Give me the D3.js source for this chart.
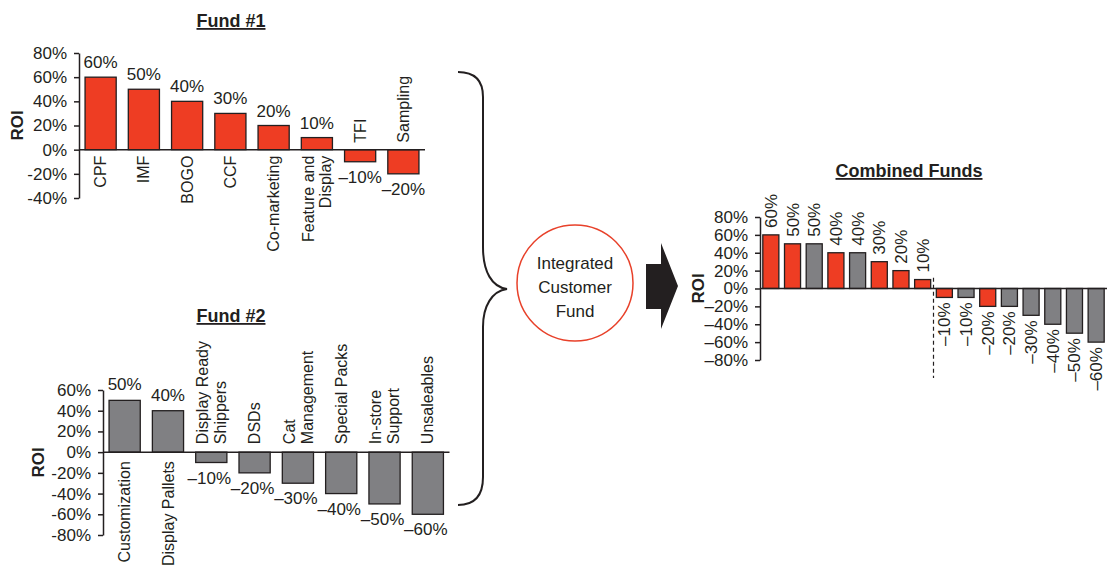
<!DOCTYPE html>
<html><head><meta charset="utf-8">
<script src="https://cdn.jsdelivr.net/npm/d3@7"></script>
<style>
body{margin:0;background:#fff;}
svg text{font-family:"Liberation Sans",Arial,sans-serif;fill:#231f20;}
</style></head><body>
<svg id="chart" width="1111" height="582"></svg>
<script>
const fund1Categories = ["CPF","IMF","BOGO","CCF","Co-marketing","Feature and\nDisplay","TFI","Sampling"];
const fund1Values = [60,50,40,30,20,10,-10,-20];
const fund1Ticks = [80,60,40,20,0,-20,-40];
const fund2Categories = ["Customization","Display Pallets","Display Ready\nShippers","DSDs","Cat\nManagement","Special Packs","In-store\nSupport","Unsaleables"];
const fund2Values = [50,40,-10,-20,-30,-40,-50,-60];
const fund2Ticks = [60,40,20,0,-20,-40,-60,-80];
const combinedValues = [60,50,50,40,40,30,20,10,-10,-10,-20,-20,-30,-40,-50,-60];
const combinedSource = ["Fund #1","Fund #1","Fund #2","Fund #1","Fund #2","Fund #1","Fund #1","Fund #1","Fund #1","Fund #2","Fund #1","Fund #2","Fund #2","Fund #2","Fund #2","Fund #2"];
const combinedTicks = [80,60,40,20,0,-20,-40,-60,-80];
const titles = ["Fund #1","Fund #2","Combined Funds"];
const centerLabel = ["Integrated","Customer","Fund"];

const RED = "#ee3d23", GRAY = "#808083", INK = "#231f20";
const svg = d3.select("#chart");

const hyphenFmt = d => d + "%";
const dashFmt = d => (d < 0 ? "\u2013" + Math.abs(d) : d) + "%";

function panel(o){
  const g = svg.append("g");
  const x = d3.scaleBand().domain(d3.range(o.values.length)).range(o.xRange)
    .paddingInner(o.pad).paddingOuter(o.pad/2);
  const y = d3.scaleLinear().domain(o.yDomain).range(o.yRange);
  // title
  g.append("text").attr("x", o.titlePos[0]).attr("y", o.titlePos[1])
    .attr("text-anchor","middle").attr("font-size",18).attr("font-weight","bold")
    .attr("text-decoration","underline").text(o.title);
  // ROI label
  g.append("text").attr("transform",`translate(${o.roiX},${(o.yRange[0]+o.yRange[1])/2}) rotate(-90)`)
    .attr("text-anchor","middle").attr("font-size",17).attr("font-weight","bold").text("ROI");
  // axis
  const ag = g.append("g").attr("transform",`translate(${o.xRange[0]},0)`)
    .call(d3.axisLeft(y).tickValues(o.ticks).tickSizeInner(5).tickSizeOuter(0).tickPadding(7).tickFormat(o.fmt));
  ag.attr("font-family",null).attr("font-size",null);
  ag.select(".domain").attr("stroke",INK).attr("stroke-width",1.5);
  ag.selectAll(".tick line").attr("stroke",INK).attr("stroke-width",1.5);
  ag.selectAll(".tick text").attr("font-size",17).attr("fill",INK);
  // bars
  g.selectAll("rect.bar").data(o.values).join("rect").attr("class","bar")
    .attr("x",(d,i)=>x(i)).attr("width",x.bandwidth())
    .attr("y",d=>y(Math.max(0,d))).attr("height",d=>Math.abs(y(d)-y(0)))
    .attr("fill",(d,i)=>o.colors[i]).attr("stroke",INK).attr("stroke-width",1.3);
  // zero line
  g.append("line").attr("x1",o.xRange[0]).attr("x2",o.xRange[1])
    .attr("y1",y(0)).attr("y2",y(0)).attr("stroke",INK).attr("stroke-width",1.5);
  return {g,x,y};
}

// ---- Fund #1
(function(){
  const p = panel({values:fund1Values, xRange:[79,425], pad:0.28, yDomain:[-40,80], yRange:[198,53],
    ticks:fund1Ticks, fmt:hyphenFmt, title:titles[0], titlePos:[231,27], roiX:23,
    colors:fund1Values.map(()=>RED)});
  const {g,x,y} = p;
  const cx = i => x(i)+x.bandwidth()/2;
  g.selectAll("text.val").data(fund1Values).join("text").attr("class","val")
    .attr("x",(d,i)=>cx(i)).attr("y",d=> d>=0 ? y(d)-9 : y(d)+21)
    .attr("text-anchor","middle").attr("font-size",17).text(dashFmt);
  fund1Categories.forEach((c,i)=>{
    const v = fund1Values[i], lines = c.split("\n"), lh = 17;
    const t = g.append("text").attr("font-size",16)
      .attr("transform",`translate(${cx(i)},${v>=0? y(0)+6 : y(0)-7}) rotate(-90)`)
      .attr("text-anchor", v>=0 ? "end" : "start");
    lines.forEach((l,k)=>t.append("tspan").attr("x",0).attr("y",(k-(lines.length-1)/2)*lh+5.6).text(l));
  });
})();

// ---- Fund #2
(function(){
  const p = panel({values:fund2Values, xRange:[103,449.5], pad:0.28, yDomain:[-80,60], yRange:[535,390],
    ticks:fund2Ticks, fmt:hyphenFmt, title:titles[1], titlePos:[231,322], roiX:44,
    colors:fund2Values.map(()=>GRAY)});
  const {g,x,y} = p;
  const cx = i => x(i)+x.bandwidth()/2;
  g.selectAll("text.val").data(fund2Values).join("text").attr("class","val")
    .attr("x",(d,i)=>cx(i)-(d<0?2:0)).attr("y",d=> d>=0 ? y(d)-10 : y(d)+21)
    .attr("text-anchor","middle").attr("font-size",17).text(dashFmt);
  fund2Categories.forEach((c,i)=>{
    const v = fund2Values[i], lines = c.split("\n"), lh = 18;
    const t = g.append("text").attr("font-size",16)
      .attr("transform",`translate(${cx(i)},${v>=0? y(0)+9 : y(0)-8}) rotate(-90)`)
      .attr("text-anchor", v>=0 ? "end" : "start");
    lines.forEach((l,k)=>t.append("tspan").attr("x",0).attr("y",(k-(lines.length-1)/2)*lh+5.6).text(l));
  });
})();

// ---- Combined
(function(){
  const p = panel({values:combinedValues, xRange:[760,1107], pad:0.26, yDomain:[-80,80], yRange:[360,217],
    ticks:combinedTicks, fmt:dashFmt, title:titles[2], titlePos:[909,177], roiX:704,
    colors:combinedSource.map(s=> s==="Fund #1" ? RED : GRAY)});
  const {g,x,y} = p;
  const cx = i => x(i)+x.bandwidth()/2;
  g.selectAll("text.val").data(combinedValues).join("text").attr("class","val")
    .attr("transform",(d,i)=>`translate(${cx(i)+6},${d>=0 ? y(d)-7 : y(d)+5}) rotate(-90)`)
    .attr("text-anchor",d=> d>=0 ? "start" : "end").attr("font-size",17).text(dashFmt);
  const firstNeg = combinedValues.findIndex(v=>v<0);
  const xd = x(firstNeg) - x.step()*x.paddingInner()/2;
  g.append("line").attr("x1",xd).attr("x2",xd).attr("y1",y(12)).attr("y2",y(-100))
    .attr("stroke",INK).attr("stroke-width",1.2).attr("stroke-dasharray","4,3");
})();

// ---- Brace, circle, arrow
svg.append("path")
  .attr("d","M458,72 C474,72 483,80 483,97 L483,247 C483,272 492,287 507,289 C492,291 483,306 483,327 L483,477 C483,496 474,505 458,505")
  .attr("fill","none").attr("stroke",INK).attr("stroke-width",2);
svg.append("circle").attr("cx",575).attr("cy",283).attr("r",58)
  .attr("fill","#fff").attr("stroke","#e8412a").attr("stroke-width",1.5);
const ct = svg.append("text").attr("text-anchor","middle").attr("font-size",17);
centerLabel.forEach((l,k)=>ct.append("tspan").attr("x",575).attr("y",269+k*24).text(l));
svg.append("polygon").attr("points","646,264 661,264 661,243 678,286 661,329 661,309 646,309").attr("fill",INK);
</script>
</body></html>
